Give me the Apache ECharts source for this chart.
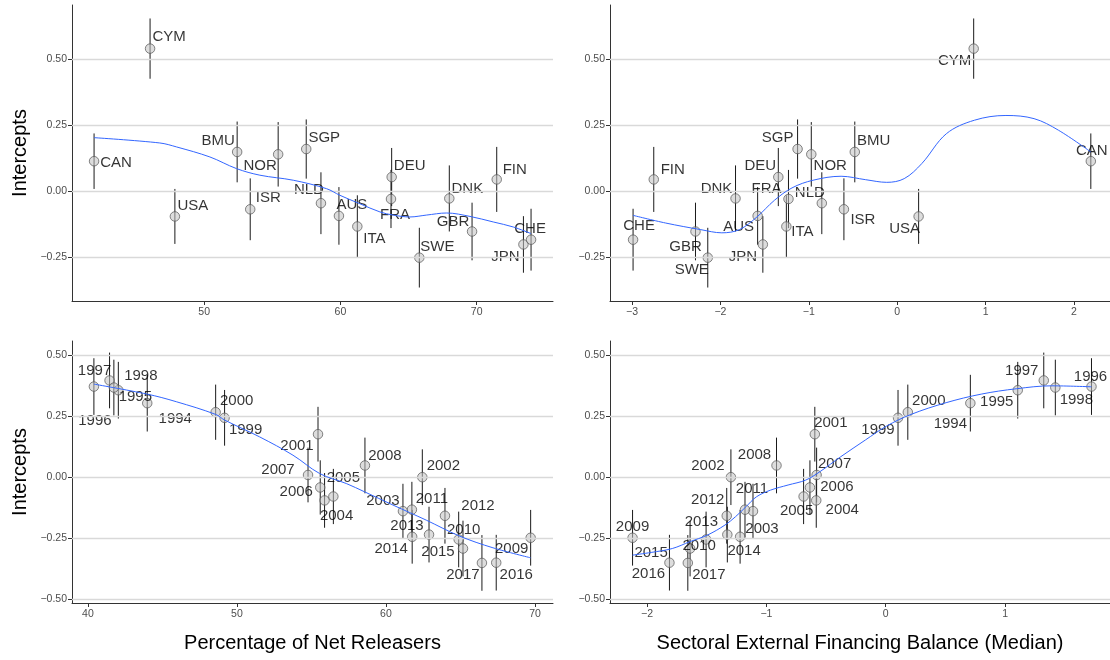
<!DOCTYPE html>
<html><head><meta charset="utf-8">
<script src="https://cdn.jsdelivr.net/npm/echarts@6/dist/echarts.min.js"></script>
<style>html,body{margin:0;padding:0;background:#fff}#c{width:1110px;height:660px}</style>
</head><body><div id="c"></div>
<script>
// ---- country-level data (top panels) ----
const countries = ['CAN','CYM','USA','BMU','ISR','NOR','SGP','NLD','AUS','ITA','DEU','FRA','SWE','DNK','GBR','FIN','JPN','CHE'];
const countryNetReleasers = [41.92,46.03,47.85,52.42,53.38,55.43,57.49,58.57,59.89,61.24,63.76,63.71,65.79,67.99,69.66,71.47,73.43,73.99];
const countryFinBalance = [2.19,0.865,0.242,-0.48,-0.603,-0.972,-1.127,-0.853,-1.579,-1.254,-1.345,-1.23,-2.143,-1.829,-2.282,-2.754,-1.52,-2.988];
const countryIntercept = [0.114,0.540,-0.095,0.149,-0.068,0.140,0.160,-0.045,-0.093,-0.133,0.054,-0.029,-0.251,-0.027,-0.152,0.045,-0.201,-0.183];
const countryErr = [0.105,0.114,0.104,0.115,0.117,0.122,0.112,0.117,0.109,0.118,0.110,0.110,0.113,0.125,0.109,0.123,0.107,0.117];

// ---- year-level data (bottom panels) ----
const years = ['1994','1995','1996','1997','1998','1999','2000','2001','2002','2003','2004','2005','2006','2007','2008','2009','2010','2011','2012','2013','2014','2015','2016','2017'];
const yearNetReleasers = [43.98,42.04,40.40,41.45,41.74,49.17,48.57,55.44,62.44,61.14,55.88,56.47,55.59,54.77,58.59,69.71,64.88,61.74,63.96,62.89,61.76,65.17,67.40,66.44];
const yearFinBalance = [0.709,1.106,1.724,1.324,1.421,0.103,0.185,-0.594,-1.297,-1.112,-0.582,-0.688,-0.635,-0.579,-0.915,-2.121,-1.505,-1.179,-1.332,-1.327,-1.220,-1.639,-1.812,-1.658];
const yearIntercept = [0.304,0.357,0.372,0.397,0.368,0.244,0.267,0.177,0.001,-0.138,-0.094,-0.078,-0.041,0.010,0.049,-0.247,-0.254,-0.132,-0.157,-0.234,-0.243,-0.291,-0.349,-0.350];
const yearErr = [0.116,0.116,0.116,0.114,0.114,0.114,0.113,0.112,0.114,0.112,0.112,0.113,0.111,0.112,0.114,0.114,0.114,0.114,0.114,0.114,0.110,0.114,0.114,0.114];

// ---- smoother curves ----
const smoothTLx = [41.92,46.74,47.97,50.42,52.37,54.09,56.54,58.98,59.96,61.43,62.90,63.88,65.10,66.30,67.80,69.51,71.22,72.69,73.99];
const smoothTLy = [0.203,0.183,0.168,0.130,0.086,0.061,0.042,0.010,-0.015,-0.047,-0.078,-0.090,-0.097,-0.090,-0.082,-0.095,-0.116,-0.135,-0.160];
const smoothTRx = [-2.988,-2.619,-2.222,-1.984,-1.786,-1.587,-1.389,-1.190,-0.952,-0.635,-0.357,-0.119,0.079,0.278,0.556,0.873,1.230,1.548,1.825,2.190];
const smoothTRy = [-0.091,-0.120,-0.145,-0.157,-0.145,-0.097,-0.034,0.013,0.042,0.057,0.044,0.034,0.048,0.105,0.218,0.269,0.287,0.275,0.231,0.149];
const smoothBLx = [40.40,43.98,45.93,48.57,49.17,51.52,53.76,55.55,57.34,58.57,60.47,62.71,64.94,67.18,69.71];
const smoothBLy = [0.382,0.341,0.310,0.258,0.235,0.166,0.091,0.016,-0.025,-0.059,-0.113,-0.175,-0.240,-0.288,-0.329];
const smoothBRx = [-2.121,-1.965,-1.788,-1.641,-1.494,-1.347,-1.259,-1.171,-1.082,-0.965,-0.818,-0.671,-0.553,-0.376,-0.171,0.006,0.212,0.506,0.800,1.094,1.388,1.724];
const smoothBRy = [-0.318,-0.307,-0.291,-0.263,-0.236,-0.195,-0.161,-0.120,-0.079,-0.052,-0.031,-0.011,0.023,0.085,0.153,0.210,0.258,0.306,0.341,0.363,0.375,0.371];

// ---- tick labels ----
const yTicksTop = [-0.25,0,0.25,0.5];
const yTicksBottom = [-0.5,-0.25,0,0.25,0.5];
const xTicksTL = [50,60,70];
const xTicksTR = [-3,-2,-1,0,1,2];
const xTicksBL = [40,50,60,70];
const xTicksBR = [-2,-1,0,1];

// ---- label placement (pixel offsets from each point) ----
const offTL = {CAN:[22,2],CYM:[19,-12],USA:[18,-11],BMU:[-19,-11],ISR:[18,-11],NOR:[-18,12],SGP:[18,-11],NLD:[-12,-13],AUS:[13,-11],ITA:[17,12],DEU:[18,-11],FRA:[4,16],SWE:[18,-11],DNK:[18,-10],GBR:[-19,-10],FIN:[18,-10],JPN:[-18,12],CHE:[-1,-11]};
const offTR = {CYM:[-19,12],CAN:[1,-10],BMU:[19,-11],NOR:[19,12],SGP:[-20,-11],DEU:[-18,-11],FRA:[-22,-10],NLD:[-12,-10],DNK:[-19,-10],FIN:[19,-10],CHE:[6,-14],GBR:[-10,15],SWE:[-16,12],AUS:[-19,11],JPN:[-20,12],ITA:[16,5],ISR:[19,11],USA:[-14,12]};
const offBL = {'1994':[28,16],'1995':[17,7],'1996':[1,34],'1997':[-15,-10],'1998':[27,-12],'1999':[21,12],'2000':[21,-11],'2001':[-21,12],'2002':[21,-11],'2003':[-20,-10],'2004':[12,15],'2005':[10,-19],'2006':[-24,4],'2007':[-30,-5],'2008':[20,-10],'2009':[-19,11],'2010':[5,-10],'2011':[20,-11],'2012':[33,-10],'2013':[-22,-9],'2014':[-21,12],'2015':[-25,3],'2016':[20,12],'2017':[-19,12]};
const offBR = {'1994':[-20,21],'1995':[-21,12],'1996':[-1,-10],'1997':[-22,-10],'1998':[21,12],'1999':[-20,12],'2000':[21,-11],'2001':[16,-11],'2002':[-23,-11],'2003':[9,18],'2004':[26,9],'2005':[-7,14],'2006':[27,-1],'2007':[18,-11],'2008':[-22,-11],'2009':[0,-11],'2010':[-7,6],'2011':[7,-21],'2012':[-19,-16],'2013':[-26,-13],'2014':[4,14],'2015':[-39,4],'2016':[-21,11],'2017':[21,12]};

const FONT = '"Liberation Sans", Arial, Helvetica, sans-serif';
const chart = echarts.init(document.getElementById('c'), null, {renderer:'canvas'});

const grids = [
  {left:72, top:5, width:481, height:296},
  {left:610, top:5, width:500, height:296},
  {left:72, top:341, width:481, height:262},
  {left:610, top:341, width:500, height:262}
];
const xRanges = [[40.3,75.6],[-3.249,2.407],[38.93,71.21],[-2.31,1.879]];
const yRanges = [[-0.415,0.705],[-0.415,0.705],[-0.514,0.5585],[-0.514,0.5585]];
const xTickSets = [xTicksTL, xTicksTR, xTicksBL, xTicksBR];
const yTickSets = [yTicksTop, yTicksTop, yTicksBottom, yTicksBottom];
const xNames = ['', '', 'Percentage of Net Releasers', 'Sectoral External Financing Balance (Median)'];
const yNames = ['Intercepts', '', 'Intercepts', ''];

function fmtY(v){ return (v < 0 ? '\u2212' : '') + Math.abs(v).toFixed(2); }

const xAxes = grids.map((g,i)=>({
  type:'value', gridIndex:i, min:xRanges[i][0], max:xRanges[i][1],
  name:xNames[i], nameLocation:'middle', nameGap:30,
  nameTextStyle:{fontSize:20, color:'#000', fontFamily:FONT},
  axisLine:{show:true, onZero:false, lineStyle:{color:'#333', width:1}},
  axisTick:{show:true, length:4, customValues:xTickSets[i], lineStyle:{color:'#333'}},
  axisLabel:{show:true, customValues:xTickSets[i], color:'#4D4D4D', fontSize:10.5, fontFamily:FONT, margin:6,
    formatter:v=>(v<0?'\u2212':'')+Math.abs(v)},
  splitLine:{show:false}
}));
const yAxes = grids.map((g,i)=>({
  type:'value', gridIndex:i, min:yRanges[i][0], max:yRanges[i][1],
  name:yNames[i], nameLocation:'middle', nameGap:42, nameRotate:90,
  nameTextStyle:{fontSize:20, color:'#000', fontFamily:FONT},
  axisLine:{show:true, onZero:false, lineStyle:{color:'#333', width:1}},
  axisTick:{show:true, length:4, customValues:yTickSets[i], lineStyle:{color:'#333'}},
  axisLabel:{show:true, customValues:yTickSets[i], color:'#4D4D4D', fontSize:10.5, fontFamily:FONT, margin:5, formatter:fmtY},
  splitLine:{show:false}
}));

const series = [];
function addPanel(i, xs, ys, errs, names, offs, sx, sy){
  // gridlines
  series.push({type:'line', xAxisIndex:i, yAxisIndex:i, data:[], z:1, silent:true,
    markLine:{silent:true, symbol:'none', label:{show:false}, animation:false,
      lineStyle:{color:'#D9D9D9', width:1.4, type:'solid'},
      data:yTickSets[i].map(v=>({yAxis:v}))}});
  // error bars
  series.push({type:'custom', xAxisIndex:i, yAxisIndex:i, z:3, silent:true,
    data: xs.map((x,k)=>[x, ys[k], errs[k]]),
    encode:{x:0, y:1},
    renderItem:(params, api)=>{
      const x = api.value(0), y = api.value(1), e = api.value(2);
      const p1 = api.coord([x, y - e]), p2 = api.coord([x, y + e]);
      return {type:'line', shape:{x1:p1[0], y1:p1[1], x2:p2[0], y2:p2[1]},
        style:{stroke:'#1a1a1a', lineWidth:1}};
    }});
  // points with labels
  series.push({type:'scatter', xAxisIndex:i, yAxisIndex:i, z:4, symbol:'circle', symbolSize:9.5,
    itemStyle:{color:'rgba(195,195,195,0.7)', borderColor:'#555', borderWidth:0.9},
    label:{show:true, position:'inside', formatter:'{b}', color:'#000', fontSize:15, fontFamily:FONT,
      align:'center', verticalAlign:'middle'},
    data: xs.map((x,k)=>({name:names[k], value:[x, ys[k]], label:{offset:offs[names[k]] || [0,0]}}))});
  // smoother
  series.push({type:'line', xAxisIndex:i, yAxisIndex:i, z:5, silent:true, showSymbol:false, smooth:0.35,
    lineStyle:{color:'#3366FF', width:1},
    data: sx.map((x,k)=>[x, sy[k]])});
}
addPanel(0, countryNetReleasers, countryIntercept, countryErr, countries, offTL, smoothTLx, smoothTLy);
addPanel(1, countryFinBalance, countryIntercept, countryErr, countries, offTR, smoothTRx, smoothTRy);
addPanel(2, yearNetReleasers, yearIntercept, yearErr, years, offBL, smoothBLx, smoothBLy);
addPanel(3, yearFinBalance, yearIntercept, yearErr, years, offBR, smoothBRx, smoothBRy);

chart.setOption({
  animation:false,
  backgroundColor:'#fff',
  grid:grids,
  xAxis:xAxes,
  yAxis:yAxes,
  series:series
});
</script>
</body></html>
